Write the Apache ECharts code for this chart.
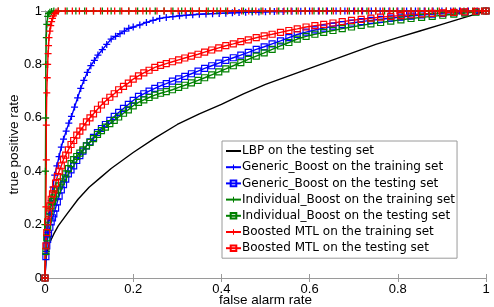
<!DOCTYPE html>
<html>
<head>
<meta charset="utf-8">
<script src="https://cdn.jsdelivr.net/npm/echarts@6/dist/echarts.min.js"></script>
<style>html,body{margin:0;padding:0;background:#fff}#c{width:494px;height:307px}</style>
</head>
<body>
<div id="c"></div>
<script>
var seriesNames = [
  'LBP on the testing set',
  'Generic_Boost on the training set',
  'Generic_Boost on the testing set',
  'Individual_Boost on the training set',
  'Individual_Boost on the testing set',
  'Boosted MTL on the training set',
  'Boosted MTL on the testing set'
];
var tickValues = [0, 0.2, 0.4, 0.6, 0.8, 1];

var lbpX = [0, 0.002, 0.005, 0.01, 0.02, 0.03, 0.05, 0.075, 0.1, 0.125, 0.15, 0.2, 0.25, 0.3, 0.35, 0.4, 0.45, 0.5, 0.55, 0.6, 0.65, 0.7, 0.75, 0.8, 0.85, 0.9, 0.95, 1];
var lbpY = [0, 0.07, 0.1, 0.13, 0.165, 0.195, 0.24, 0.295, 0.34, 0.375, 0.41, 0.47, 0.525, 0.575, 0.615, 0.65, 0.69, 0.725, 0.755, 0.785, 0.815, 0.845, 0.875, 0.9, 0.925, 0.95, 0.975, 1];

var genTrainX = [0, 0.003, 0.006, 0.01, 0.014, 0.018, 0.022, 0.027, 0.032, 0.037, 0.042, 0.048, 0.054, 0.06, 0.067, 0.074, 0.081, 0.088, 0.096, 0.104, 0.112, 0.12, 0.13, 0.14, 0.15, 0.16, 0.17, 0.18, 0.19, 0.2, 0.215, 0.23, 0.245, 0.26, 0.275, 0.29, 0.305, 0.32, 0.335, 0.35, 0.365, 0.38, 0.395, 0.41, 0.425, 0.44, 0.455, 0.47, 0.485, 0.5, 0.52, 0.54, 0.56, 0.58, 0.6, 0.62, 0.64, 0.66, 0.68, 0.7, 0.72, 0.74, 0.76, 0.78, 0.8, 0.82, 0.84, 0.86, 0.88, 0.9, 0.92, 0.94, 0.96, 0.98, 1];
var genTrainY = [0, 0.1, 0.17, 0.24, 0.29, 0.34, 0.385, 0.42, 0.455, 0.49, 0.52, 0.55, 0.58, 0.605, 0.64, 0.675, 0.71, 0.74, 0.77, 0.795, 0.815, 0.835, 0.855, 0.875, 0.895, 0.905, 0.915, 0.925, 0.935, 0.94, 0.948, 0.957, 0.965, 0.972, 0.976, 0.979, 0.982, 0.984, 0.986, 0.988, 0.989, 0.99, 0.991, 0.992, 0.993, 0.994, 0.995, 0.996, 0.996, 0.997, 0.998, 0.998, 0.999, 0.999, 1, 1, 1, 1, 1, 1, 1, 1, 1, 1, 1, 1, 1, 1, 1, 1, 1, 1, 1, 1, 1];

var testX = [0, 0.002, 0.004, 0.006, 0.008, 0.011, 0.014, 0.017, 0.02, 0.024, 0.028, 0.032, 0.037, 0.042, 0.047, 0.053, 0.059, 0.065, 0.072, 0.079, 0.086, 0.094, 0.102, 0.11, 0.119, 0.128, 0.137, 0.147, 0.157, 0.167, 0.178, 0.189, 0.2, 0.212, 0.224, 0.236, 0.249, 0.262, 0.275, 0.289, 0.303, 0.317, 0.332, 0.347, 0.362, 0.378, 0.394, 0.41, 0.427, 0.444, 0.461, 0.479, 0.497, 0.515, 0.534, 0.553, 0.572, 0.592, 0.612, 0.632, 0.653, 0.674, 0.695, 0.717, 0.739, 0.761, 0.784, 0.807, 0.83, 0.854, 0.878, 0.902, 0.927, 0.952, 0.977, 1];
var genTestY = [0, 0.08, 0.12, 0.145, 0.165, 0.19, 0.21, 0.225, 0.24, 0.262, 0.285, 0.307, 0.33, 0.35, 0.37, 0.39, 0.405, 0.42, 0.44, 0.458, 0.475, 0.495, 0.51, 0.527, 0.545, 0.56, 0.575, 0.59, 0.605, 0.62, 0.635, 0.65, 0.665, 0.68, 0.69, 0.7, 0.71, 0.72, 0.728, 0.737, 0.746, 0.755, 0.765, 0.775, 0.785, 0.795, 0.805, 0.815, 0.825, 0.835, 0.845, 0.856, 0.866, 0.877, 0.888, 0.9, 0.912, 0.921, 0.929, 0.936, 0.943, 0.949, 0.955, 0.96, 0.965, 0.969, 0.973, 0.977, 0.981, 0.985, 0.988, 0.991, 0.994, 0.996, 0.998, 1];
var indTestY = [0, 0.1, 0.15, 0.19, 0.22, 0.25, 0.27, 0.287, 0.3, 0.315, 0.33, 0.345, 0.36, 0.375, 0.39, 0.41, 0.428, 0.443, 0.455, 0.468, 0.48, 0.495, 0.508, 0.522, 0.538, 0.552, 0.565, 0.578, 0.59, 0.603, 0.617, 0.63, 0.645, 0.658, 0.667, 0.676, 0.685, 0.692, 0.698, 0.705, 0.714, 0.722, 0.731, 0.74, 0.75, 0.761, 0.772, 0.783, 0.795, 0.807, 0.819, 0.831, 0.843, 0.856, 0.869, 0.882, 0.895, 0.905, 0.913, 0.92, 0.927, 0.934, 0.94, 0.946, 0.952, 0.957, 0.962, 0.967, 0.972, 0.976, 0.98, 0.984, 0.988, 0.992, 0.996, 1];
var mtlTestY = [0, 0.12, 0.17, 0.21, 0.24, 0.27, 0.295, 0.315, 0.33, 0.355, 0.38, 0.4, 0.42, 0.445, 0.46, 0.48, 0.5, 0.515, 0.535, 0.55, 0.566, 0.585, 0.6, 0.615, 0.632, 0.648, 0.662, 0.677, 0.69, 0.705, 0.718, 0.73, 0.745, 0.757, 0.768, 0.778, 0.789, 0.796, 0.803, 0.81, 0.817, 0.824, 0.831, 0.838, 0.846, 0.854, 0.862, 0.87, 0.877, 0.885, 0.892, 0.9, 0.907, 0.913, 0.92, 0.927, 0.933, 0.94, 0.945, 0.95, 0.955, 0.96, 0.965, 0.969, 0.973, 0.977, 0.98, 0.983, 0.986, 0.989, 0.991, 0.993, 0.995, 0.997, 0.999, 1];

var indTrainX = [0, 0.0005, 0.001, 0.0015, 0.002, 0.003, 0.004, 0.006, 0.008, 0.011, 0.015, 0.02, 0.03, 0.05, 0.07, 0.09, 0.11, 0.13, 0.15, 0.17, 0.19, 0.21, 0.23, 0.25, 0.27, 0.29, 0.31, 0.33, 0.35, 0.37, 0.39, 0.41, 0.43, 0.45, 0.47, 0.49, 0.51, 0.53, 0.55, 0.57, 0.59, 0.61, 0.63, 0.65, 0.67, 0.69, 0.71, 0.73, 0.75, 0.77, 0.79, 0.81, 0.83, 0.85, 0.87, 0.89, 0.91, 0.93, 0.95, 0.97, 0.99, 1];
var indTrainY = [0, 0.2, 0.4, 0.6, 0.8, 0.9, 0.95, 0.98, 0.99, 0.995, 0.998, 1, 1, 1, 1, 1, 1, 1, 1, 1, 1, 1, 1, 1, 1, 1, 1, 1, 1, 1, 1, 1, 1, 1, 1, 1, 1, 1, 1, 1, 1, 1, 1, 1, 1, 1, 1, 1, 1, 1, 1, 1, 1, 1, 1, 1, 1, 1, 1, 1, 1, 1];

var mtlTrainX = [0, 0.002, 0.003, 0.003, 0.004, 0.005, 0.006, 0.007, 0.008, 0.009, 0.011, 0.013, 0.015, 0.017, 0.019, 0.022, 0.025, 0.03, 0.046, 0.062, 0.078, 0.094, 0.11, 0.126, 0.142, 0.158, 0.174, 0.19, 0.206, 0.222, 0.238, 0.254, 0.27, 0.286, 0.302, 0.318, 0.334, 0.35, 0.366, 0.382, 0.398, 0.414, 0.43, 0.446, 0.462, 0.478, 0.494, 0.51, 0.526, 0.542, 0.558, 0.574, 0.59, 0.606, 0.622, 0.638, 0.654, 0.67, 0.686, 0.702, 0.718, 0.734, 0.75, 0.766, 0.782, 0.798, 0.814, 0.83, 0.846, 0.862, 0.878, 0.894, 0.91, 0.926, 0.942, 0.958, 0.974, 0.99, 1];
var mtlTrainY = [0, 0.266, 0.442, 0.573, 0.693, 0.75, 0.8, 0.84, 0.87, 0.9, 0.925, 0.945, 0.96, 0.972, 0.982, 0.99, 0.996, 1, 1, 1, 1, 1, 1, 1, 1, 1, 1, 1, 1, 1, 1, 1, 1, 1, 1, 1, 1, 1, 1, 1, 1, 1, 1, 1, 1, 1, 1, 1, 1, 1, 1, 1, 1, 1, 1, 1, 1, 1, 1, 1, 1, 1, 1, 1, 1, 1, 1, 1, 1, 1, 1, 1, 1, 1, 1, 1, 1, 1, 1];

function pairs(xs, ys) {
  var out = [];
  for (var i = 0; i < xs.length; i++) out.push([xs[i], ys[i]]);
  return out;
}

var PLUS = 'path://M4.1,0H5.9V4.1H10V5.9H5.9V10H4.1V5.9H0V4.1H4.1Z';
var FONT = 'Liberation Sans';

function lineSeries(name, data, color, marker) {
  var s = {
    name: name, type: 'line', data: data, animation: false,
    lineStyle: { color: color, width: 1.4 },
    emphasis: { disabled: true }
  };
  if (marker === 'plus') {
    s.symbol = PLUS; s.symbolSize = 7; s.showSymbol = true;
    s.itemStyle = { color: color };
  } else if (marker === 'square') {
    s.symbol = 'rect'; s.symbolSize = 6; s.showSymbol = true;
    s.itemStyle = { color: 'rgba(255,255,255,0)', borderColor: color, borderWidth: 1.2 };
  } else {
    s.symbol = 'none'; s.showSymbol = false;
    s.itemStyle = { color: color };
  }
  return s;
}

var legendData = seriesNames.map(function (n, i) {
  if (i === 0) return { name: n, itemStyle: { color: 'rgba(0,0,0,0)', borderWidth: 0, opacity: 0 } };
  return { name: n };
});

function tickFmt(v) {
  for (var i = 0; i < tickValues.length; i++) {
    if (Math.abs(tickValues[i] - v) < 1e-9) return String(tickValues[i]);
  }
  return '';
}

var chart = echarts.init(document.getElementById('c'), null, { renderer: 'canvas' });
var axisCommon = {
  type: 'value', min: 0, max: 1, interval: 0.2,
  splitLine: { show: false },
  axisLine: { show: true, lineStyle: { color: '#9a9a9a', width: 1 } },
  axisTick: { show: true, inside: true, length: 4, lineStyle: { color: '#9a9a9a' } }
};
chart.setOption({
  animation: false,
  backgroundColor: '#fff',
  textStyle: { fontFamily: FONT },
  grid: { left: 45, right: 8, top: 11, bottom: 29, containLabel: false, outerBoundsMode: 'none' },
  xAxis: [
    Object.assign({}, axisCommon, {
      position: 'bottom',
      name: 'false alarm rate', nameLocation: 'middle', nameGap: 15, nameMoveOverlap: false,
      nameTextStyle: { fontFamily: FONT, fontSize: 13.5, color: '#000' },
      axisLabel: { show: true, fontFamily: FONT, fontSize: 13, color: '#000', margin: 5,
        showMinLabel: true, showMaxLabel: true, hideOverlap: false, formatter: tickFmt }
    }),
    Object.assign({}, axisCommon, { position: 'top', axisLabel: { show: false } })
  ],
  yAxis: [
    Object.assign({}, axisCommon, {
      position: 'left',
      name: 'true positive rate', nameLocation: 'middle', nameGap: 24, nameMoveOverlap: false,
      nameTextStyle: { fontFamily: FONT, fontSize: 13.5, color: '#000' },
      axisLabel: { show: true, fontFamily: FONT, fontSize: 13, color: '#000', margin: 3,
        showMinLabel: true, showMaxLabel: true, hideOverlap: false, formatter: tickFmt }
    }),
    Object.assign({}, axisCommon, { position: 'right', axisLabel: { show: false } })
  ],
  legend: {
    show: true, orient: 'vertical', left: 222, top: 141,
    data: legendData,
    backgroundColor: '#fff', borderColor: '#9a9a9a', borderWidth: 1,
    padding: [3, 2, 3, 3], itemGap: 2.2, itemWidth: 15, itemHeight: 7,
    selectedMode: false,
    textStyle: { fontFamily: 'DejaVu Sans', fontSize: 12, color: '#000', lineHeight: 14, padding: [0, 0, 0, -4] }
  },
  series: [
    lineSeries(seriesNames[0], pairs(lbpX, lbpY), '#000000', 'none'),
    lineSeries(seriesNames[1], pairs(genTrainX, genTrainY), '#0000ff', 'plus'),
    lineSeries(seriesNames[2], pairs(testX, genTestY), '#0000ff', 'square'),
    lineSeries(seriesNames[3], pairs(indTrainX, indTrainY), '#008000', 'plus'),
    lineSeries(seriesNames[4], pairs(testX, indTestY), '#008000', 'square'),
    lineSeries(seriesNames[5], pairs(mtlTrainX, mtlTrainY), '#ff0000', 'plus'),
    lineSeries(seriesNames[6], pairs(testX, mtlTestY), '#ff0000', 'square')
  ]
});
</script>
</body>
</html>
